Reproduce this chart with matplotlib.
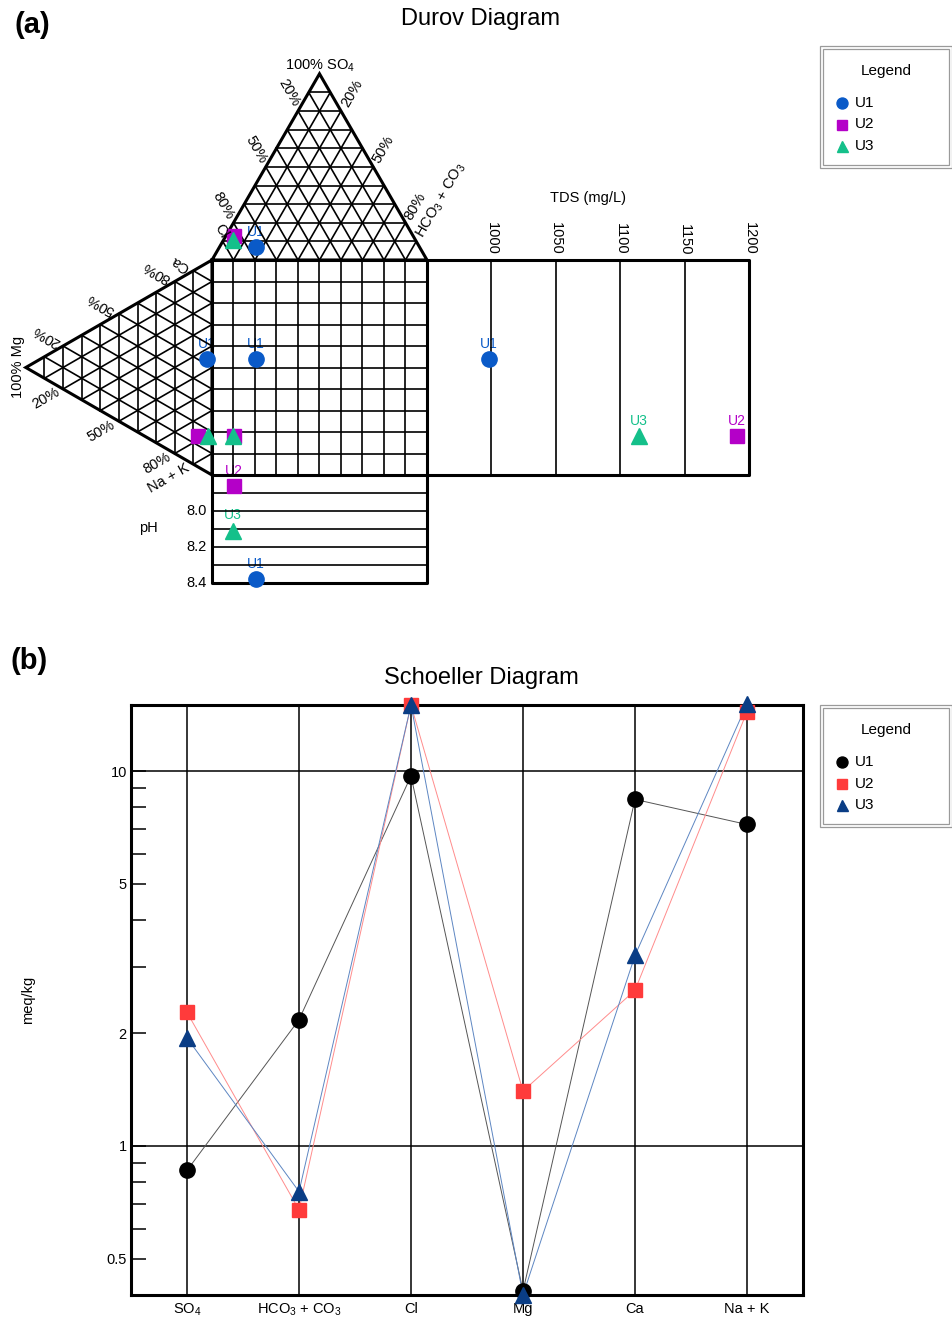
import numpy as np
import matplotlib
matplotlib.use('Agg')
import matplotlib.pyplot as plt
from matplotlib.patches import Rectangle
from matplotlib.ticker import FixedLocator, NullFormatter

plt.rcParams['font.family'] = ['Liberation Sans', 'DejaVu Sans']
plt.rcParams['mathtext.fontset'] = 'custom'
plt.rcParams['mathtext.rm'] = 'Liberation Sans'
plt.rcParams['mathtext.it'] = 'Liberation Sans:italic'
plt.rcParams['mathtext.bf'] = 'Liberation Sans:bold'

W, H = 953, 1317

# samples and their chemistry (meq/kg)
samples = ['U1', 'U2', 'U3']
ions = ['SO$_\\mathregular{4}$', 'HCO$_\\mathregular{3}$ + CO$_\\mathregular{3}$',
        'Cl', 'Mg', 'Ca', 'Na + K']
so4 = [0.86, 2.27, 1.94]
hco3 = [2.17, 0.675, 0.755]
cl = [9.7, 15.0, 15.0]
mg = [0.41, 1.40, 0.40]
ca = [8.4, 2.60, 3.22]
nak = [7.2, 14.4, 15.1]
tds = [998, 1190, 1114]
ph = [8.38, 7.86, 8.11]

tds_ticks = [1000, 1050, 1100, 1150, 1200]
ph_ticks = [8.0, 8.2, 8.4]
yticks_major = [0.5, 1, 2, 5, 10]
yticks_minor = [0.6, 0.7, 0.8, 0.9, 3, 4, 6, 7, 8, 9]

# styles
durov_style = {'U1': ('o', '#0a5ac8', 11), 'U2': ('s', '#b400c8', 9.5), 'U3': ('^', '#14c08a', 11)}
sch_style = {'U1': ('o', 'black', '#555555', 11),
             'U2': ('s', '#ff3b3b', '#ff8c8c', 9.5),
             'U3': ('^', '#0a3d85', '#5d86c2', 11)}

fig = plt.figure(figsize=(W / 100, H / 100), dpi=100)

# ---------------- Durov diagram ----------------
S = 2.15          # pixels per diagram unit
OX, OY = 212, 475  # pixel position of the square's lower-left corner
R3 = np.sqrt(3) / 2 * 100
TOP = 620
axd = fig.add_axes([0, 1 - TOP / H, 1, TOP / H])
axd.set_xlim(-OX / S, (W - OX) / S)
axd.set_ylim((OY - TOP) / S, OY / S)
axd.axis('off')

lw_g, lw_o = 1.2, 2.2


def tds_x(v):
    return 100 + (v - 950) * 0.6


def ph_y(v):
    return -(v - 7.8) * 250 / 3


def anion_xy(i):
    tot = so4[i] + hco3[i] + cl[i]
    a, h = so4[i] / tot, hco3[i] / tot
    return 100 * (h + a / 2), 100 + R3 * a


def cation_xy(i):
    tot = mg[i] + ca[i] + nak[i]
    m, c = mg[i] / tot, ca[i] / tot
    return -R3 * m, 100 * (c + m / 2)


def tri_grid(A, B, C):
    A, B, C = np.array(A), np.array(B), np.array(C)
    for f in np.arange(1, 10) / 10:
        for P, Q, R in ((A, B, C), (B, C, A), (C, A, B)):
            p1 = P + f * (Q - P)
            p2 = P + f * (R - P)
            axd.plot([p1[0], p2[0]], [p1[1], p2[1]], color='k', lw=lw_g, zorder=2)
    axd.plot([A[0], B[0], C[0], A[0]], [A[1], B[1], C[1], A[1]], color='k', lw=lw_o,
             zorder=2.5, solid_joinstyle='miter')


# anion triangle (top) and cation triangle (left)
tri_grid((0, 100), (100, 100), (50, 100 + R3))
tri_grid((0, 100), (0, 0), (-R3, 50))

# central square
for v in range(10, 100, 10):
    axd.plot([v, v], [0, 100], color='k', lw=lw_g, zorder=2)
    axd.plot([0, 100], [v, v], color='k', lw=lw_g, zorder=2)
axd.plot([0, 100, 100, 0, 0], [0, 0, 100, 100, 0], color='k', lw=lw_o, zorder=2.5)

# TDS box
for v in tds_ticks[:-1]:
    axd.plot([tds_x(v)] * 2, [0, 100], color='k', lw=lw_g, zorder=2)
for v in tds_ticks:
    axd.text(tds_x(v), 102.3, str(v), rotation=-90, ha='center', va='bottom', fontsize=10.5)
axd.plot([100, tds_x(1200), tds_x(1200), 100], [100, 100, 0, 0], color='k', lw=lw_o, zorder=2.5)

# pH box
for v in np.arange(7.9, 8.35, 0.1):
    axd.plot([0, 100], [ph_y(v)] * 2, color='k', lw=lw_g, zorder=2)
for v in ph_ticks:
    axd.text(-2.3, ph_y(v), '%.1f' % v, ha='right', va='center', fontsize=10.5)
axd.plot([0, 0, 100, 100], [0, ph_y(8.4), ph_y(8.4), 0], color='k', lw=lw_o, zorder=2.5)

# sample points
places = {'anion': [], 'cation': [], 'square': [], 'tds': [], 'ph': []}
for i, s in enumerate(samples):
    ax_, ay_ = anion_xy(i)
    cx_, cy_ = cation_xy(i)
    places['anion'].append((ax_, ay_))
    places['cation'].append((cx_, cy_))
    places['square'].append((ax_, cy_))
    places['tds'].append((tds_x(tds[i]), cy_))
    places['ph'].append((ax_, ph_y(ph[i])))

for key, pts in places.items():
    pts = np.array(pts)
    for i, s in enumerate(samples):
        m, c, ms = durov_style[s]
        axd.plot(pts[i, 0], pts[i, 1], marker=m, color=c, ms=ms, ls='none', zorder=3 + i * 0.1)
        d = np.hypot(*(pts - pts[i]).T)
        d[i] = 1e9
        if d.min() > 8:
            axd.annotate(s, (pts[i, 0], pts[i, 1]), xytext=(0, 8), textcoords='offset points',
                         ha='center', va='baseline', color=c, fontsize=10, zorder=1.5)

# ---------------- overlay (pixel coordinates) ----------------
ov = fig.add_axes([0, 0, 1, 1], zorder=10)
ov.set_xlim(0, W)
ov.set_ylim(H, 0)
ov.axis('off')

ov.text(15, 25, '(a)', fontsize=21, fontweight='bold', ha='left', va='center')
ov.text(481, 19, 'Durov Diagram', fontsize=17, ha='center', va='center')
ov.text(11, 661, '(b)', fontsize=21, fontweight='bold', ha='left', va='center')
ov.text(481, 678, 'Schoeller Diagram', fontsize=17, ha='center', va='center')

fs = 10.5
ov.text(320, 66, '100% SO$_\\mathregular{4}$', fontsize=fs, ha='center', va='center')
for txt, x, y in (('20%', 289, 93), ('50%', 256, 150), ('80%', 223, 206), ('Cl', 221, 231)):
    ov.text(x, y, txt, fontsize=fs, rotation=-60, ha='center', va='center')
for txt, x, y in (('20%', 352, 93), ('50%', 383, 149), ('80%', 415, 206),
                  ('HCO$_\\mathregular{3}$ + CO$_\\mathregular{3}$', 441, 200)):
    ov.text(x, y, txt, fontsize=fs, rotation=60, ha='center', va='center')
for txt, x, y in (('Ca', 180, 264), ('80%', 157, 272), ('50%', 101, 304), ('20%', 47, 336)):
    ov.text(x, y, txt, fontsize=fs, rotation=150, ha='center', va='center')
for txt, x, y in (('20%', 46, 398), ('50%', 101, 431), ('80%', 157, 463), ('Na + K', 169, 478)):
    ov.text(x, y, txt, fontsize=fs, rotation=30, ha='center', va='center')
ov.text(18, 367, '100% Mg', fontsize=fs, rotation=90, ha='center', va='center')
ov.text(148, 528, 'pH', fontsize=fs, ha='center', va='center')
ov.text(588, 198, 'TDS (mg/L)', fontsize=fs, ha='center', va='center')
ov.text(28, 1000, 'meq/kg', fontsize=fs, rotation=90, ha='center', va='center')


def legend_box(y0, items):
    for inset in (0, 3):
        ov.add_patch(Rectangle((820 + inset, y0 + inset), 132 - 2 * inset, 122 - 2 * inset,
                               fill=False, ec='#9a9a9a', lw=0.9))
    ov.text(886, y0 + 25, 'Legend', ha='center', va='center', fontsize=11)
    for k, (lab, m, c, ms) in enumerate(items):
        yy = y0 + 57 + k * 21.5
        ov.plot(842, yy, marker=m, color=c, ms=ms * 0.72, ls='none')
        ov.text(855, yy, lab, ha='left', va='center', fontsize=11)


legend_box(46, [(s,) + durov_style[s] for s in samples])
legend_box(705, [(s, sch_style[s][0], sch_style[s][1], sch_style[s][3]) for s in samples])

# ---------------- Schoeller diagram ----------------
axs = fig.add_axes([131 / W, 1 - 1295 / H, (803 - 131) / W, (1295 - 705) / H])
axs.set_yscale('log')
axs.set_xlim(-0.5, 5.5)
axs.set_ylim(0.4, 15)
x = np.arange(len(ions))
for xi in x:
    axs.axvline(xi, color='k', lw=1.1, zorder=1)
for yv in (1, 10):
    axs.axhline(yv, color='k', lw=1.1, zorder=1)

vals = np.array([so4, hco3, cl, mg, ca, nak]).T
for i, s in enumerate(samples):
    m, mc, lc, ms = sch_style[s]
    axs.plot(x, vals[i], color=lc, lw=0.7, zorder=3, clip_on=False)
for i, s in enumerate(samples):
    m, mc, lc, ms = sch_style[s]
    axs.plot(x, vals[i], ls='none', marker=m, color=mc, ms=ms, zorder=4 + i, clip_on=False)

axs.yaxis.set_major_locator(FixedLocator(yticks_major))
axs.yaxis.set_minor_locator(FixedLocator(yticks_minor))
axs.set_yticklabels(['0.5', '1', '2', '5', '10'])
axs.yaxis.set_minor_formatter(NullFormatter())
axs.tick_params(axis='y', which='both', direction='in', length=10.8, width=1.1,
                labelsize=10.5, pad=3)
axs.set_xticks(x)
axs.set_xticklabels(ions)
axs.tick_params(axis='x', length=0, labelsize=10.5, pad=5)
for sp in axs.spines.values():
    sp.set_linewidth(2.2)

fig.savefig('out.png', dpi=100)
